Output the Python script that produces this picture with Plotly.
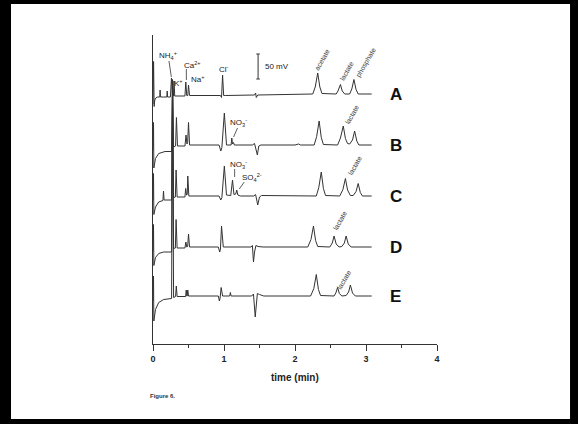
import plotly.graph_objects as go

# ---------------- data (time in min, signal in mV relative to each trace baseline) ----------------
trace_names = ["A", "B", "C", "D", "E"]
trace_offsets = [500, 398, 296, 194, 96]

time_A = [0.000, 0.008, 0.016, 0.025, 0.04, 0.06, 0.095, 0.10, 0.105, 0.15, 0.195, 0.20, 0.205, 0.245,
          0.26, 0.275, 0.288, 0.296, 0.306, 0.45, 0.462, 0.475, 0.49, 0.50, 0.515, 0.95, 0.965, 0.98,
          0.995, 1.02, 1.43, 1.445, 1.455, 1.475, 2.0, 2.25, 2.285, 2.32, 2.35, 2.38, 2.58,
          2.605, 2.64, 2.665, 2.70, 2.77, 2.80, 2.83, 2.86, 2.89, 3.08]
mv_A = [-20, 65, -25, -12, -8, -6, -6, 8, -6, -6, -6, 6, -6, -6,
        32, -4, -4, 26, -4, -4, 24, -3, -3, 18, -3, -3, -7, 38,
        -3, -3, -2, 2, -7, -2, -1, 0, 14, 42, 14, 1, 0,
        6, 19, 6, 0, 0, 10, 29, 9, 0, 0]

time_B = [0.000, 0.007, 0.012, 0.035, 0.08, 0.17, 0.262, 0.275, 0.29, 0.318, 0.33, 0.345, 0.45, 0.465,
          0.478, 0.488, 0.50, 0.515, 0.93, 0.955, 0.97, 1.005, 1.035, 1.10, 1.11, 1.12, 1.135, 1.145,
          1.40, 1.43, 1.47, 1.49, 1.52, 2.0, 2.05, 2.08, 2.27, 2.305, 2.34, 2.37, 2.40,
          2.60, 2.64, 2.68, 2.71, 2.74, 2.77, 2.81, 2.84, 2.87, 2.90, 3.08]
mv_B = [-10, 45, -46, -27, -17, -13, -13, 130, -4, -2, 55, -2, -2, 20,
        2, 5, 45, 0, 0, -12, -5, 64, 0, 0, 14, 2, 5, 0,
        0, 3, -20, -2, 0, 0, 2, 0, 0, 17, 48, 15, 1,
        0, 14, 38, 13, 3, 2, 10, 28, 8, 0, 0]

time_C = [0.000, 0.007, 0.012, 0.035, 0.08, 0.14, 0.148, 0.156, 0.262, 0.275, 0.29, 0.315, 0.325, 0.34,
          0.45, 0.46, 0.472, 0.482, 0.49, 0.505, 0.93, 0.955, 0.97, 1.005, 1.035, 1.08, 1.095, 1.12,
          1.14, 1.165, 1.18, 1.195, 1.23, 1.42, 1.445, 1.475, 1.50, 1.53, 2.30, 2.335, 2.37,
          2.40, 2.43, 2.63, 2.675, 2.71, 2.74, 2.78, 2.82, 2.86, 2.89, 2.92, 2.95, 3.08]
mv_C = [-8, 45, -37, -22, -12, -9, 10, -8, -8, 232, -3, -2, 52, -2,
        -2, 15, 2, 3, 40, 0, 0, -8, -3, 60, 2, 2, 1, 32,
        3, 4, 12, 2, 0, 0, 3, -18, -2, 1, 0, 17, 48,
        15, 1, 0, 13, 35, 12, 1, 1, 9, 25, 7, 0, 0]

time_D = [0.000, 0.007, 0.012, 0.035, 0.08, 0.15, 0.262, 0.275, 0.29, 0.315, 0.325, 0.34, 0.45, 0.463,
          0.475, 0.488, 0.50, 0.515, 0.92, 0.94, 0.95, 0.965, 0.99, 1.38, 1.40, 1.415, 1.43, 1.45,
          1.48, 1.55, 2.18, 2.225, 2.26, 2.29, 2.32, 2.49, 2.525, 2.55, 2.58, 2.62,
          2.66, 2.695, 2.72, 2.75, 2.79, 3.08]
mv_D = [-8, 45, -37, -21, -13, -10, -10, 335, -3, -2, 55, -2, -2, 10,
        0, 1, 26, 0, 0, -10, -4, 42, 0, 0, 3, -30, -10, 3,
        1, 0, 0, 15, 42, 13, 1, 0, 8, 22, 6, 0,
        1, 8, 22, 6, 0, 0]

time_E = [0.000, 0.007, 0.012, 0.035, 0.08, 0.15, 0.262, 0.275, 0.29, 0.318, 0.328, 0.34, 0.46, 0.468,
          0.476, 0.482, 0.49, 0.50, 0.92, 0.935, 0.945, 0.96, 0.98, 1.08, 1.09, 1.10, 1.39, 1.415,
          1.44, 1.455, 1.47, 1.50, 1.56, 2.22, 2.265, 2.30, 2.33, 2.36, 2.55, 2.575,
          2.60, 2.625, 2.66, 2.72, 2.755, 2.78, 2.81, 2.85, 3.08]
mv_E = [-10, 40, -50, -27, -13, -7, -5, 432, -3, -1, 20, -1, -1, 12,
        0, 0, 12, 0, 0, -10, -4, 17, 0, 0, 7, 0, 0, 4,
        -42, -10, 5, 3, 0, 0, 15, 43, 13, 1, 0, 6,
        17, 5, 0, 1, 8, 22, 6, 0, 0]

trace_times = [time_A, time_B, time_C, time_D, time_E]
trace_mvs = [mv_A, mv_B, mv_C, mv_D, mv_E]

x_ticks = [0, 1, 2, 3, 4]
x_title = "time (min)"

# ---------------- geometry helpers (pixel -> paper) ----------------
W, H = 578, 424
L, R, T, B = 152.5, 437.5, 35, 344


def pxx(p):
    return (p - L) / (R - L)


def pxy(p):
    return (B - p) / (B - T)


INK = "#333333"
fig = go.Figure()

for name, off, tt, vv in zip(trace_names, trace_offsets, trace_times, trace_mvs):
    fig.add_trace(go.Scatter(x=tt, y=[v + off for v in vv], mode="lines",
                             line=dict(color=INK, width=1), name=name, showlegend=False,
                             hoverinfo="skip"))

annotations = []
shapes = []

# white slide area inside the black frame (paper background is black)
shapes.append(dict(type="rect", xref="paper", yref="paper", x0=pxx(10), x1=pxx(571),
                   y0=pxy(419), y1=pxy(4), fillcolor="#ffffff", line=dict(width=0), layer="below"))

lab_font = dict(family="Liberation Sans, Arial", size=8, color="#222222")
rot_font = dict(family="Liberation Sans, Arial", size=7, color="#444444")


def label(text, x, y, font=lab_font, angle=0, xanchor="center"):
    annotations.append(dict(text=text, x=x, y=y, xref="x", yref="y", showarrow=False,
                            font=font, textangle=angle, xanchor=xanchor, yanchor="middle"))


def seg(x0, y0, x1, y1, w=0.8):
    shapes.append(dict(type="line", x0=x0, y0=y0, x1=x1, y1=y1, xref="x", yref="y",
                       line=dict(color=INK, width=w)))


# trace A labels
label("NH<sub>4</sub><sup>+</sup>", 0.21, 578)
seg(0.225, 566, 0.258, 534)
label("K<sup>+</sup>", 0.36, 522)
label("Ca<sup>2+</sup>", 0.55, 558)
seg(0.47, 550, 0.47, 528)
label("Na<sup>+</sup>", 0.64, 530)
label("Cl<sup>-</sup>", 1.0, 550)
# scale bar 50 mV
seg(1.48, 530, 1.48, 580, 1)
seg(1.455, 580, 1.505, 580, 1)
seg(1.455, 530, 1.505, 530, 1)
label("50 mV", 1.55, 556, xanchor="left")
label("acetate", 2.38, 570, rot_font, -60)
label("lactate", 2.72, 546, rot_font, -60)
label("phosphate", 3.0, 562, rot_font, -60)
# trace B labels
label("NO<sub>3</sub><sup>-</sup>", 1.21, 444)
seg(1.19, 432, 1.135, 414)
label("lactate", 2.80, 460, rot_font, -60)
# trace C labels
label("NO<sub>3</sub><sup>-</sup>", 1.21, 360)
seg(1.15, 350, 1.15, 334)
label("SO<sub>4</sub><sup>2-</sup>", 1.39, 334)
seg(1.285, 324, 1.215, 310)
label("lactate", 2.84, 358, rot_font, -60)
# trace D / E labels
label("lactate", 2.63, 248, rot_font, -60)
label("lactate", 2.69, 130, rot_font, -60)

# trace letters
letter_font = dict(family="Liberation Sans, Arial", size=17, color="#111111")
for name, off in zip(trace_names, trace_offsets):
    annotations.append(dict(text="<b>%s</b>" % name, x=3.31, y=off, xref="x", yref="y",
                            showarrow=False, font=letter_font, xanchor="left", yanchor="middle"))

# axis title and figure caption
annotations.append(dict(text="<b>%s</b>" % x_title, x=pxx(295), y=pxy(377), xref="paper", yref="paper",
                        showarrow=False, font=dict(family="Liberation Sans, Arial", size=10, color="#222222"),
                        xanchor="center", yanchor="middle"))
annotations.append(dict(text="<b>Figure 6.</b>", x=pxx(147), y=pxy(396), xref="paper", yref="paper",
                        showarrow=False, font=dict(family="Liberation Sans, Arial", size=6, color="#333333"),
                        xanchor="left", yanchor="middle"))

fig.update_layout(
    width=W, height=H,
    margin=dict(l=L, r=W - R, t=T, b=H - B, pad=0),
    paper_bgcolor="#000000", plot_bgcolor="rgba(0,0,0,0)",
    annotations=annotations, shapes=shapes,
    xaxis=dict(range=[0, 4], tickvals=x_ticks, ticktext=["<b>%d</b>" % v for v in x_ticks],
               showline=True, linecolor=INK, linewidth=1, ticks="outside", ticklen=6,
               tickwidth=1, tickcolor=INK, showgrid=False, zeroline=False,
               tickfont=dict(family="Liberation Sans, Arial", size=9, color="#222222"),
               minor=dict(ticks="outside", ticklen=3, dtick=0.5, tick0=0, tickcolor=INK, showgrid=False)),
    yaxis=dict(range=[0, 618], showline=True, linecolor=INK, linewidth=1, ticks="",
               showticklabels=False, showgrid=False, zeroline=False),
)

fig.write_html("out.html")
